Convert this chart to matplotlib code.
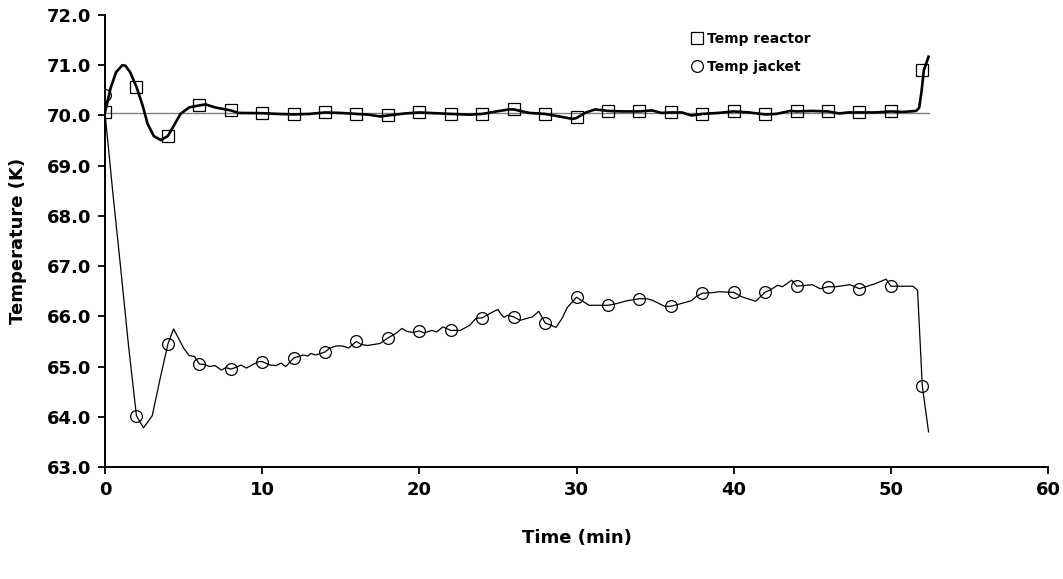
import matplotlib
matplotlib.use("Agg")
import matplotlib.pyplot as plt
from matplotlib.ticker import FormatStrFormatter

# marker samples (every 2 min)
marker_t = [0, 2, 4, 6, 8, 10, 12, 14, 16, 18, 20, 22, 24, 26, 28, 30,
            32, 34, 36, 38, 40, 42, 44, 46, 48, 50, 52]
reactor_marks = [70.06, 70.57, 69.59, 70.20, 70.10, 70.05, 70.02, 70.06, 70.03,
                 70.00, 70.06, 70.02, 70.02, 70.12, 70.03, 69.96, 70.09, 70.08,
                 70.06, 70.03, 70.08, 70.02, 70.08, 70.08, 70.06, 70.09, 70.91]
jacket_marks = [70.40, 64.02, 65.45, 65.05, 64.95, 65.10, 65.17, 65.29, 65.50,
                65.57, 65.71, 65.72, 65.97, 65.99, 65.87, 66.38, 66.22, 66.35,
                66.20, 66.46, 66.48, 66.48, 66.60, 66.58, 66.55, 66.60, 64.62]

# reactor temperature trace
reactor_t = [0, 0.35, 0.7, 1.1, 1.3, 1.6, 2.0, 2.4, 2.7, 3.1, 3.55, 4.0, 4.4, 4.8,
             5.35, 6.0, 6.4, 7.0, 8.0, 8.5, 10, 11, 12, 13, 14, 15, 16, 16.8,
             17.5, 18, 19.1, 20, 22, 23.2, 24, 24.9, 25.7, 26, 27, 28, 28.9,
             29.75, 30, 30.6, 31.2, 32, 32.9, 34, 34.8, 35.4, 36, 36.7, 37.3,
             38, 39, 40, 41, 42, 42.7, 43.6, 44, 45, 46, 46.7, 47.3, 48, 49,
             50, 50.8, 51.6, 51.8, 51.95, 52.1, 52.4]
reactor_T = [70.06, 70.54, 70.86, 71.00, 70.99, 70.86, 70.57, 70.19, 69.84, 69.59,
             69.51, 69.59, 69.81, 70.03, 70.16, 70.20, 70.22, 70.16, 70.10, 70.05,
             70.045, 70.03, 70.02, 70.03, 70.06, 70.05, 70.03, 70.015, 69.98,
             70.00, 70.04, 70.06, 70.03, 70.015, 70.03, 70.08, 70.12, 70.12,
             70.05, 70.03, 69.98, 69.93, 69.95, 70.06, 70.12, 70.09, 70.08, 70.08,
             70.10, 70.05, 70.06, 70.06, 70.00, 70.03, 70.05, 70.08, 70.06, 70.02,
             70.03, 70.09, 70.08, 70.09, 70.08, 70.04, 70.06, 70.06, 70.06, 70.08,
             70.07, 70.09, 70.15, 70.47, 70.90, 71.17]

# jacket temperature trace
jacket_t = [0, 0.5, 1.0, 1.5, 2.0, 2.45, 3.0, 3.5, 4.0, 4.36, 5.0, 5.35, 5.7, 6.0,
            6.35, 6.65, 7.0, 7.4, 7.7, 8.0, 8.3, 8.65, 9.0, 9.4, 9.8, 10.0, 10.5,
            10.9, 11.2, 11.5, 12.0, 12.3, 12.6, 12.9, 13.1, 13.4, 14.0, 14.3,
            14.7, 15.1, 15.5, 16.0, 16.3, 16.7, 17.5, 18.0, 18.5, 18.9, 19.2,
            19.6, 20.0, 20.3, 20.8, 21.1, 21.5, 22.0, 22.6, 23.2, 23.6, 24.0,
            24.5, 25.0, 25.2, 25.4, 25.6, 26.0, 26.4, 27.2, 27.6, 28.0, 28.4,
            28.7, 29.1, 29.4, 30.0, 30.4, 30.8, 32.0, 32.5, 33.2, 33.6, 34.0,
            34.5, 34.9, 35.6, 36.0, 36.6, 37.3, 37.6, 38.0, 38.6, 39.1, 39.75,
            40.0, 40.5, 40.9, 41.4, 42.0, 42.3, 42.8, 43.1, 43.7, 44.0, 45.0,
            45.5, 46.0, 46.5, 47.4, 48.0, 48.4, 49.0, 49.7, 50.0, 50.8, 51.4,
            51.7, 52.0, 52.4]
jacket_T = [70.05, 68.45, 66.95, 65.40, 64.02, 63.78, 64.02, 64.75, 65.45, 65.75,
            65.37, 65.22, 65.20, 65.05, 65.04, 65.00, 65.02, 64.93, 64.98, 64.95,
            64.98, 65.03, 64.97, 65.04, 65.10, 65.10, 65.03, 65.02, 65.07, 65.00,
            65.17, 65.20, 65.23, 65.21, 65.26, 65.23, 65.29, 65.37, 65.41, 65.41,
            65.37, 65.50, 65.44, 65.42, 65.46, 65.57, 65.66, 65.76, 65.70, 65.68,
            65.71, 65.67, 65.72, 65.69, 65.79, 65.72, 65.72, 65.82, 65.96, 65.97,
            66.06, 66.14, 66.04, 65.98, 66.02, 65.99, 65.92, 65.99, 66.10, 65.87,
            65.82, 65.78, 65.97, 66.17, 66.38, 66.30, 66.22, 66.22, 66.25, 66.31,
            66.33, 66.35, 66.35, 66.31, 66.20, 66.20, 66.25, 66.31, 66.39, 66.46,
            66.47, 66.49, 66.48, 66.48, 66.39, 66.35, 66.30, 66.48, 66.52, 66.62,
            66.59, 66.72, 66.60, 66.63, 66.55, 66.59, 66.59, 66.63, 66.55, 66.59,
            66.65, 66.74, 66.60, 66.60, 66.60, 66.52, 64.62, 63.70]

setpoint_t = [0, 52.4]
setpoint_T = [70.04, 70.04]

plt.rcParams['font.family'] = ['DejaVu Sans']
plt.rcParams['font.weight'] = 'bold'

fig = plt.figure(figsize=(10.63, 5.79), dpi=100)
ax = fig.add_axes([0.0988, 0.1934, 0.8871, 0.7807])

ax.plot(setpoint_t, setpoint_T, color='#808080', lw=1.0)
ax.plot(reactor_t, reactor_T, color='black', lw=1.9)
ax.plot(jacket_t, jacket_T, color='black', lw=0.9)
ax.plot(marker_t, reactor_marks, ls='none', marker='s', ms=9, mfc='none',
        mec='black', mew=0.9, label='Temp reactor')
ax.plot(marker_t, jacket_marks, ls='none', marker='o', ms=8.5, mfc='none',
        mec='black', mew=0.9, label='Temp jacket')

ax.set_xlim(0, 60)
ax.set_ylim(63, 72)
ax.set_xticks([0, 10, 20, 30, 40, 50, 60])
ax.set_yticks([63, 64, 65, 66, 67, 68, 69, 70, 71, 72])
ax.yaxis.set_major_formatter(FormatStrFormatter('%.1f'))
ax.tick_params(direction='out', length=5, width=1.3, labelsize=13, pad=5)
for lab in ax.get_xticklabels() + ax.get_yticklabels():
    lab.set_fontweight('bold')

for side in ['top', 'right']:
    ax.spines[side].set_visible(False)
for side in ['left', 'bottom']:
    ax.spines[side].set_linewidth(1.4)

ax.set_xlabel('Time (min)', fontsize=13, fontweight='bold', labelpad=22)
ax.set_ylabel('Temperature (K)', fontsize=13, fontweight='bold', labelpad=14)

ax.legend(loc='upper left', bbox_to_anchor=(0.61, 0.99), frameon=False,
          handlelength=0.6, handletextpad=0.4, labelspacing=1.0,
          prop={'size': 10, 'weight': 'bold'})

fig.savefig('out.png', dpi=100)
